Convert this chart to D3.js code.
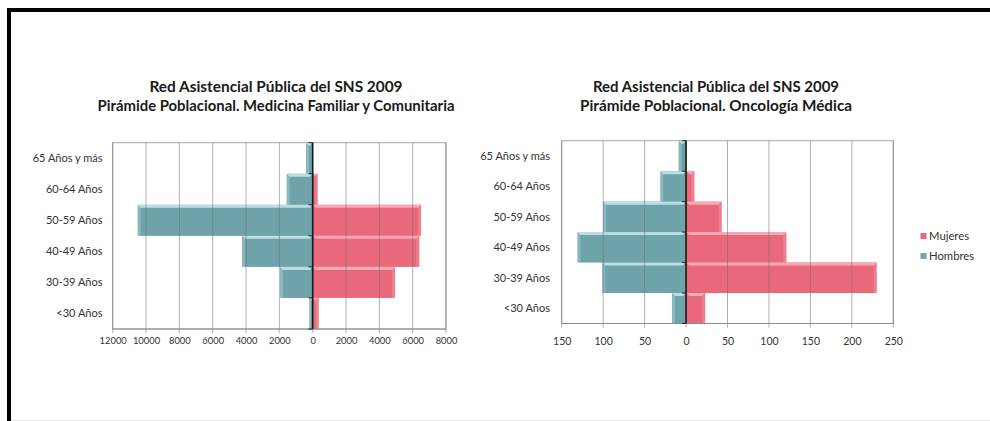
<!DOCTYPE html>
<html><head><meta charset="utf-8">
<script src="https://cdn.jsdelivr.net/npm/d3@7"></script>
<style>html,body{margin:0;padding:0;background:#fff;}svg{display:block;}</style>
</head><body>
<svg id="c" width="990" height="421"></svg>
<script>
const categories = ["<30 Años","30-39 Años","40-49 Años","50-59 Años","60-64 Años","65 Años y más"];
const mfcHombres = [200, 1960, 4240, 10500, 1560, 400];
const mfcMujeres = [360, 4940, 6400, 6500, 300, 20];
const oncoHombres = [17, 101, 131, 100, 31, 9];
const oncoMujeres = [23, 230, 121, 43, 10, 0];
const mfcTicks = [-12000,-10000,-8000,-6000,-4000,-2000,0,2000,4000,6000,8000];
const oncoTicks = [-150,-100,-50,0,50,100,150,200,250];
const titleLine1 = "Red Asistencial Pública del SNS 2009";
const mfcTitle2 = "Pirámide Poblacional. Medicina Familiar y Comunitaria";
const oncoTitle2 = "Pirámide Poblacional. Oncología Médica";
const seriesNames = ["Mujeres","Hombres"];

const colH = "#6fa3aa", colHl = "#b9dfe4";
const colM = "#e9687a", colMl = "#f5a9b3";
const svg = d3.select("#c");
const FONT = "Lato, 'Open Sans', sans-serif";

// outer frame
svg.append("rect").attr("x",7).attr("y",8).attr("width",983).attr("height",4).attr("fill","#000");
svg.append("rect").attr("x",7).attr("y",8).attr("width",4).attr("height",413).attr("fill","#000");
svg.append("line").attr("x1",11).attr("x2",990).attr("y1",420.5).attr("y2",420.5).attr("stroke","#e4e4e4");

function drawChart(o){
  const g = svg.append("g");
  const x = d3.scaleLinear().domain(o.domain).range([o.left,o.right]);
  const y = d3.scaleBand().domain(categories.slice().reverse()).range([o.top,o.bottom]).padding(0);
  // titles
  g.append("text").attr("x",o.tcx).attr("y",92).attr("text-anchor","middle")
    .attr("font-family",FONT).attr("font-weight","bold").attr("font-size",14.5).attr("fill","#1a1a1a")
    .attr("textLength",o.t1w).attr("lengthAdjust","spacingAndGlyphs").text(titleLine1);
  g.append("text").attr("x",o.tcx).attr("y",111).attr("text-anchor","middle")
    .attr("font-family",FONT).attr("font-weight","bold").attr("font-size",14.5).attr("fill","#1a1a1a")
    .attr("textLength",o.t2w).attr("lengthAdjust","spacingAndGlyphs").text(o.title2);
  // plot border
  g.append("rect").attr("x",o.left).attr("y",o.top).attr("width",o.right-o.left).attr("height",o.bottom-o.top)
    .attr("fill","none").attr("stroke","#a8a8a8");
  // bars
  function bars(vals, sign, col, light){
    categories.forEach((c,i)=>{
      const v = vals[i]; if(!v) return;
      const x0 = Math.min(x(0), x(sign*v)), x1 = Math.max(x(0), x(sign*v));
      const y0 = y(c), h = y.bandwidth();
      g.append("rect").attr("x",x0).attr("y",y0).attr("width",x1-x0).attr("height",h).attr("fill",col);
      const b = Math.min(3, (x1-x0)/2);
      g.append("polygon").attr("points",[[x0,y0],[x1,y0],[x1-b,y0+3],[x0+b,y0+3]].map(p=>p.join(",")).join(" "))
        .attr("fill",light);
      const xe = sign<0 ? x0 : x1, d = sign<0 ? b : -b;
      g.append("polygon").attr("points",[[xe,y0],[xe+d,y0+3],[xe+d,y0+h],[xe,y0+h]].map(p=>p.join(",")).join(" "))
        .attr("fill",light).attr("opacity",0.35);
    });
  }
  bars(o.hombres,-1,colH,colHl);
  bars(o.mujeres,1,colM,colMl);
  // gridlines over bars
  o.ticks.forEach(t=>{
    g.append("line").attr("x1",x(t)).attr("x2",x(t)).attr("y1",o.top).attr("y2",o.bottom+4)
      .attr("stroke","#6f6f6f").attr("stroke-opacity",0.55);
  });
  g.append("line").attr("x1",o.left).attr("x2",o.right).attr("y1",o.bottom).attr("y2",o.bottom).attr("stroke","#8a8a8a");
  // x labels
  const xa = g.append("g").attr("transform",`translate(0,${o.bottom})`)
    .call(d3.axisBottom(x).tickValues(o.ticks).tickFormat(d=>Math.abs(d)).tickSize(0).tickPadding(o.xpad));
  xa.select(".domain").remove();
  xa.selectAll("text").attr("font-family",FONT).attr("font-size",o.xfs).attr("fill","#333");
  // zero axis
  g.append("line").attr("x1",x(0)).attr("x2",x(0)).attr("y1",o.top).attr("y2",o.bottom).attr("stroke","#1a1a1a").attr("stroke-width",1.6);
  const bounds = d3.range(categories.length+1).map(i=>o.top+i*y.bandwidth());
  bounds.forEach(b=>g.append("line").attr("x1",x(0)-4).attr("x2",x(0)).attr("y1",b).attr("y2",b).attr("stroke","#1a1a1a"));
  // y labels
  categories.forEach(c=>{
    g.append("text").attr("x",o.labelX).attr("y",y(c)+y.bandwidth()/2).attr("dy","0.35em")
      .attr("text-anchor","end").attr("font-family",FONT).attr("font-size",11).attr("fill","#333").text(c);
  });
  return g;
}

drawChart({domain:[-12000,8000],left:112.7,right:446,top:142.7,bottom:329,ticks:mfcTicks,
  hombres:mfcHombres,mujeres:mfcMujeres,tcx:276,t1w:253,t2w:357,title2:mfcTitle2,labelX:102.5,xfs:9.4,xpad:8});
drawChart({domain:[-150,250],left:561.7,right:893.3,top:140.7,bottom:323.5,ticks:oncoTicks,
  hombres:oncoHombres,mujeres:oncoMujeres,tcx:716,t1w:246,t2w:272,title2:oncoTitle2,labelX:550,xfs:10.5,xpad:14});

// legend
const leg = svg.append("g");
[[colM,236,seriesNames[0]],[colH,256,seriesNames[1]]].forEach(([c,yy,t])=>{
  leg.append("rect").attr("x",920.5).attr("y",yy-3).attr("width",6).attr("height",6).attr("fill",c);
  leg.append("text").attr("x",929).attr("y",yy).attr("dy","0.35em").attr("font-family",FONT)
    .attr("font-size",11.3).attr("fill","#333").text(t);
});
</script>
</body></html>
